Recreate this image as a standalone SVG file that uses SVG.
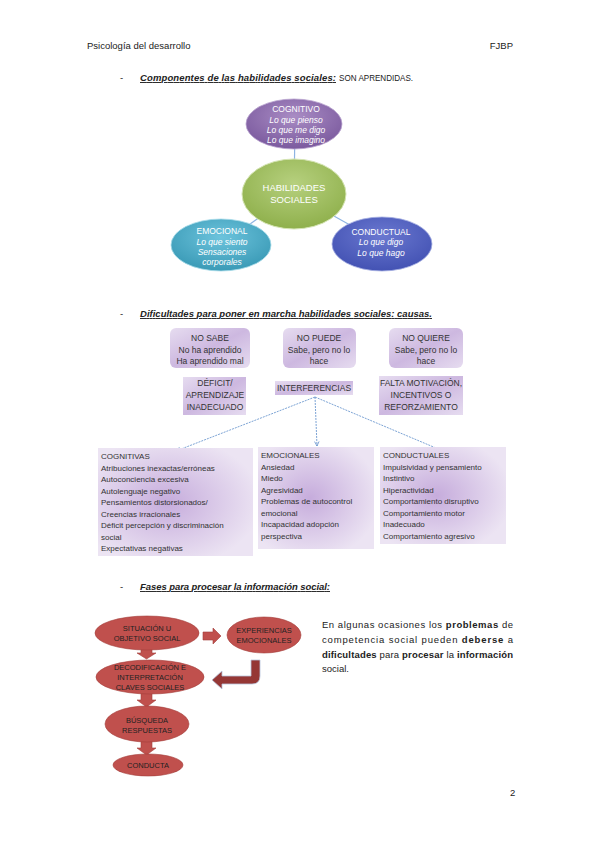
<svg xmlns="http://www.w3.org/2000/svg" width="599" height="848" viewBox="0 0 599 848">
<style>
text{font-family:"Liberation Sans",Arial,sans-serif;}
.hdr{font-size:9.5px;fill:#222;}
.h2{font-size:9.5px;fill:#222;font-weight:bold;font-style:italic;text-decoration:underline;}
.wt{font-size:8.5px;fill:#fff;text-anchor:middle;}
.wi{font-size:8.5px;fill:#fff;text-anchor:middle;font-style:italic;}
.bx{font-size:8.5px;fill:#333;text-anchor:middle;}
.lt{font-size:8px;fill:#333;}
.rt{font-size:7.5px;fill:#222;text-anchor:middle;}
.par{font-size:9.5px;fill:#222;}
.b{font-weight:bold;}
.cause{stroke:none;}
.dash{stroke:#5b8bc9;stroke-width:0.8;stroke-dasharray:2 1;fill:none;}
.red{fill:#c0504d;stroke:#a33e3b;stroke-width:0.6;}
</style>
<defs>
<radialGradient id="gP" cx="50%" cy="35%" r="65%"><stop offset="0" stop-color="#a98cc4"/><stop offset="1" stop-color="#7b5a9e"/></radialGradient>
<radialGradient id="gG" cx="50%" cy="35%" r="65%"><stop offset="0" stop-color="#b6d07e"/><stop offset="1" stop-color="#8fb04c"/></radialGradient>
<radialGradient id="gT" cx="50%" cy="35%" r="65%"><stop offset="0" stop-color="#6cc3dc"/><stop offset="1" stop-color="#3a9ab6"/></radialGradient>
<radialGradient id="gB" cx="50%" cy="35%" r="65%"><stop offset="0" stop-color="#6a78d0"/><stop offset="1" stop-color="#4352b3"/></radialGradient>
<radialGradient id="gL" cx="45%" cy="50%" r="60%"><stop offset="0" stop-color="#c6acdc"/><stop offset="1" stop-color="#ece4f3"/></radialGradient>
<linearGradient id="gC" x1="0" y1="0" x2="1" y2="1"><stop offset="0" stop-color="#e6dcf0"/><stop offset="0.5" stop-color="#cdb8e0"/><stop offset="1" stop-color="#e6dcf0"/></linearGradient>
<marker id="ah" viewBox="0 0 8 8" refX="7" refY="4" markerWidth="6" markerHeight="6" orient="auto" markerUnits="userSpaceOnUse"><path d="M1,1 L7,4 L1,7" fill="none" stroke="#5b8bc9" stroke-width="1"/></marker>
</defs>
<rect width="599" height="848" fill="#fff"/>

<g id="header">
<text class="hdr" x="87" y="49">Psicología del desarrollo</text>
<text class="hdr" x="513" y="49" text-anchor="end">FJBP</text>
<text class="hdr" x="510" y="796">2</text>
</g>

<g id="sec1-title">
<text class="hdr" x="120" y="81">-</text>
<text x="140" y="81" style="font-size:9.5px;fill:#222"><tspan class="h2" textLength="196">Componentes de las habilidades sociales:</tspan><tspan dx="3" textLength="74" lengthAdjust="spacingAndGlyphs">SON APRENDIDAS.</tspan></text>
</g>

<g id="connectors-top" stroke="#8eb4e3" stroke-width="1.2">
<line x1="295" y1="125" x2="294" y2="193"/>
<line x1="293" y1="193" x2="221" y2="245"/>
<line x1="293" y1="193" x2="382" y2="243"/>
</g>
<g id="cognitivo">
<ellipse cx="294" cy="124" rx="48" ry="25" fill="url(#gP)" stroke="#b9a3cf" stroke-width="0.8"/>
<text class="wt" x="296" y="112">COGNITIVO</text>
<text class="wi" x="296" y="123">Lo que pienso</text>
<text class="wi" x="296" y="133">Lo que me digo</text>
<text class="wi" x="296" y="143">Lo que imagino</text>
</g>
<g id="habilidades">
<ellipse cx="294" cy="194" rx="52" ry="35" fill="url(#gG)" stroke="#d4e4b2" stroke-width="1"/>
<text class="wt" x="294" y="191" style="font-size:9.5px">HABILIDADES</text>
<text class="wt" x="294" y="203" style="font-size:9.5px">SOCIALES</text>
</g>
<g id="emocional">
<ellipse cx="221" cy="245" rx="50" ry="26" fill="url(#gT)" stroke="#a8dcea" stroke-width="0.8"/>
<text class="wt" x="222" y="234">EMOCIONAL</text>
<text class="wi" x="222" y="245">Lo que siento</text>
<text class="wi" x="222" y="255">Sensaciones</text>
<text class="wi" x="222" y="265">corporales</text>
</g>
<g id="conductual">
<ellipse cx="382" cy="244" rx="50" ry="27" fill="url(#gB)" stroke="#a5aee2" stroke-width="0.8"/>
<text class="wt" x="381" y="235">CONDUCTUAL</text>
<text class="wi" x="381" y="245">Lo que digo</text>
<text class="wi" x="381" y="256">Lo que hago</text>
</g>

<g id="sec2-title">
<text class="hdr" x="120" y="317">-</text>
<text class="h2" x="140" y="317" textLength="292">Dificultades para poner en marcha habilidades sociales: causas.</text>
</g>

<g id="no-sabe">
<rect x="170" y="328" width="80" height="40" rx="6" fill="url(#gC)"/>
<text class="bx" x="210" y="341">NO SABE</text>
<text class="bx" x="210" y="353">No ha aprendido</text>
<text class="bx" x="210" y="364">Ha aprendido mal</text>
</g>
<g id="no-puede">
<rect x="283" y="328" width="73" height="40" rx="6" fill="url(#gC)"/>
<text class="bx" x="319" y="341">NO PUEDE</text>
<text class="bx" x="319" y="353">Sabe, pero no lo</text>
<text class="bx" x="319" y="364">hace</text>
</g>
<g id="no-quiere">
<rect x="389" y="328" width="74" height="40" rx="6" fill="url(#gC)"/>
<text class="bx" x="426" y="341">NO QUIERE</text>
<text class="bx" x="426" y="353">Sabe, pero no lo</text>
<text class="bx" x="426" y="364">hace</text>
</g>
<g id="deficit">
<rect x="183" y="377" width="63" height="38" fill="url(#gC)"/>
<text class="bx" x="215" y="386">DÉFICIT/</text>
<text class="bx" x="215" y="398">APRENDIZAJE</text>
<text class="bx" x="215" y="410">INADECUADO</text>
</g>
<g id="interferencias">
<rect x="275" y="381" width="78" height="14" fill="url(#gC)"/>
<text class="bx" x="314" y="391">INTERFERENCIAS</text>
</g>
<g id="falta">
<rect x="379" y="376" width="84" height="39" fill="url(#gC)"/>
<text class="bx" x="421" y="386">FALTA MOTIVACIÓN,</text>
<text class="bx" x="421" y="398">INCENTIVOS O</text>
<text class="bx" x="421" y="410">REFORZAMIENTO</text>
</g>

<g id="connectors-causes">
<line class="dash" x1="315" y1="397" x2="176" y2="451" marker-end="url(#ah)"/>
<line class="dash" x1="315" y1="397" x2="317" y2="446" marker-end="url(#ah)"/>
<line class="dash" x1="315" y1="397" x2="443" y2="451" marker-end="url(#ah)"/>
</g>

<g id="cognitivas">
<rect x="98" y="448" width="155" height="108" fill="url(#gL)"/>
<text class="lt" x="101" y="459">COGNITIVAS</text>
<text class="lt" x="101" y="470.5">Atribuciones inexactas/erróneas</text>
<text class="lt" x="101" y="482">Autoconciencia excesiva</text>
<text class="lt" x="101" y="493.5">Autolenguaje negativo</text>
<text class="lt" x="101" y="505">Pensamientos distorsionados/</text>
<text class="lt" x="101" y="516.5">Creencias irracionales</text>
<text class="lt" x="101" y="528">Déficit percepción y discriminación</text>
<text class="lt" x="101" y="539.5">social</text>
<text class="lt" x="101" y="551">Expectativas negativas</text>
</g>
<g id="emocionales">
<rect x="258" y="447" width="116" height="102" fill="url(#gL)"/>
<text class="lt" x="261" y="458">EMOCIONALES</text>
<text class="lt" x="261" y="469.5">Ansiedad</text>
<text class="lt" x="261" y="481">Miedo</text>
<text class="lt" x="261" y="492.5">Agresividad</text>
<text class="lt" x="261" y="504">Problemas de autocontrol</text>
<text class="lt" x="261" y="515.5">emocional</text>
<text class="lt" x="261" y="527">Incapacidad adopción</text>
<text class="lt" x="261" y="538.5">perspectiva</text>
</g>
<g id="conductuales">
<rect x="380" y="447" width="126" height="97" fill="url(#gL)"/>
<text class="lt" x="383" y="458">CONDUCTUALES</text>
<text class="lt" x="383" y="469.5">Impulsividad y pensamiento</text>
<text class="lt" x="383" y="481">Instintivo</text>
<text class="lt" x="383" y="492.5">Hiperactividad</text>
<text class="lt" x="383" y="504">Comportamiento disruptivo</text>
<text class="lt" x="383" y="515.5">Comportamiento motor</text>
<text class="lt" x="383" y="527">Inadecuado</text>
<text class="lt" x="383" y="538.5">Comportamiento agresivo</text>
</g>

<g id="sec3-title">
<text class="hdr" x="120" y="590">-</text>
<text class="h2" x="140" y="590" textLength="190">Fases para procesar la información social:</text>
</g>

<g id="connectors-fases">
<path class="red" d="M141,648 H152 V653 H156 L146.5,659 L137,653 H141 Z"/>
<path class="red" d="M141,693 H152 V700 H156 L146.5,707 L137,700 H141 Z"/>
<path class="red" d="M141,741 H152 V748 H156 L146.5,755 L137,748 H141 Z"/>
<path class="red" d="M203,632 H213 V628 L221,636 L213,644 V640 H203 Z"/>
<path d="M251,660 H260 V676 Q260,684 252,684 H222 V689 L212,680 L222,671 V676 H251 Z" fill="#953735" stroke="#b8c4dc" stroke-width="0.8"/>
</g>
<g id="situacion">
<ellipse class="red" cx="147" cy="633" rx="52" ry="17"/>
<text class="rt" x="147" y="631">SITUACIÓN U</text>
<text class="rt" x="147" y="641">OBJETIVO SOCIAL</text>
</g>
<g id="experiencias">
<ellipse class="red" cx="264" cy="635" rx="37" ry="18"/>
<text class="rt" x="264" y="633">EXPERIENCIAS</text>
<text class="rt" x="264" y="643">EMOCIONALES</text>
</g>
<g id="decodificacion">
<ellipse class="red" cx="150" cy="677" rx="54" ry="17"/>
<text class="rt" x="150" y="670">DECODIFICACIÓN E</text>
<text class="rt" x="150" y="680">INTERPRETACIÓN</text>
<text class="rt" x="150" y="690">CLAVES SOCIALES</text>
</g>
<g id="busqueda">
<ellipse class="red" cx="147" cy="724" rx="42" ry="18"/>
<text class="rt" x="147" y="723">BÚSQUEDA</text>
<text class="rt" x="147" y="733">RESPUESTAS</text>
</g>
<g id="conducta">
<ellipse class="red" cx="148" cy="765" rx="35" ry="11"/>
<text class="rt" x="148" y="768">CONDUCTA</text>
</g>

<g id="paragraph">
<text class="par" x="322" y="628" textLength="191" lengthAdjust="spacing">En algunas ocasiones los <tspan class="b">problemas</tspan> de</text>
<text class="par" x="322" y="643" textLength="191" lengthAdjust="spacing">competencia social pueden <tspan class="b">deberse</tspan> a</text>
<text class="par" x="322" y="658" textLength="191" lengthAdjust="spacing"><tspan class="b">dificultades</tspan> para <tspan class="b">procesar</tspan> la <tspan class="b">información</tspan></text>
<text class="par" x="322" y="672">social.</text>
</g>
</svg>
